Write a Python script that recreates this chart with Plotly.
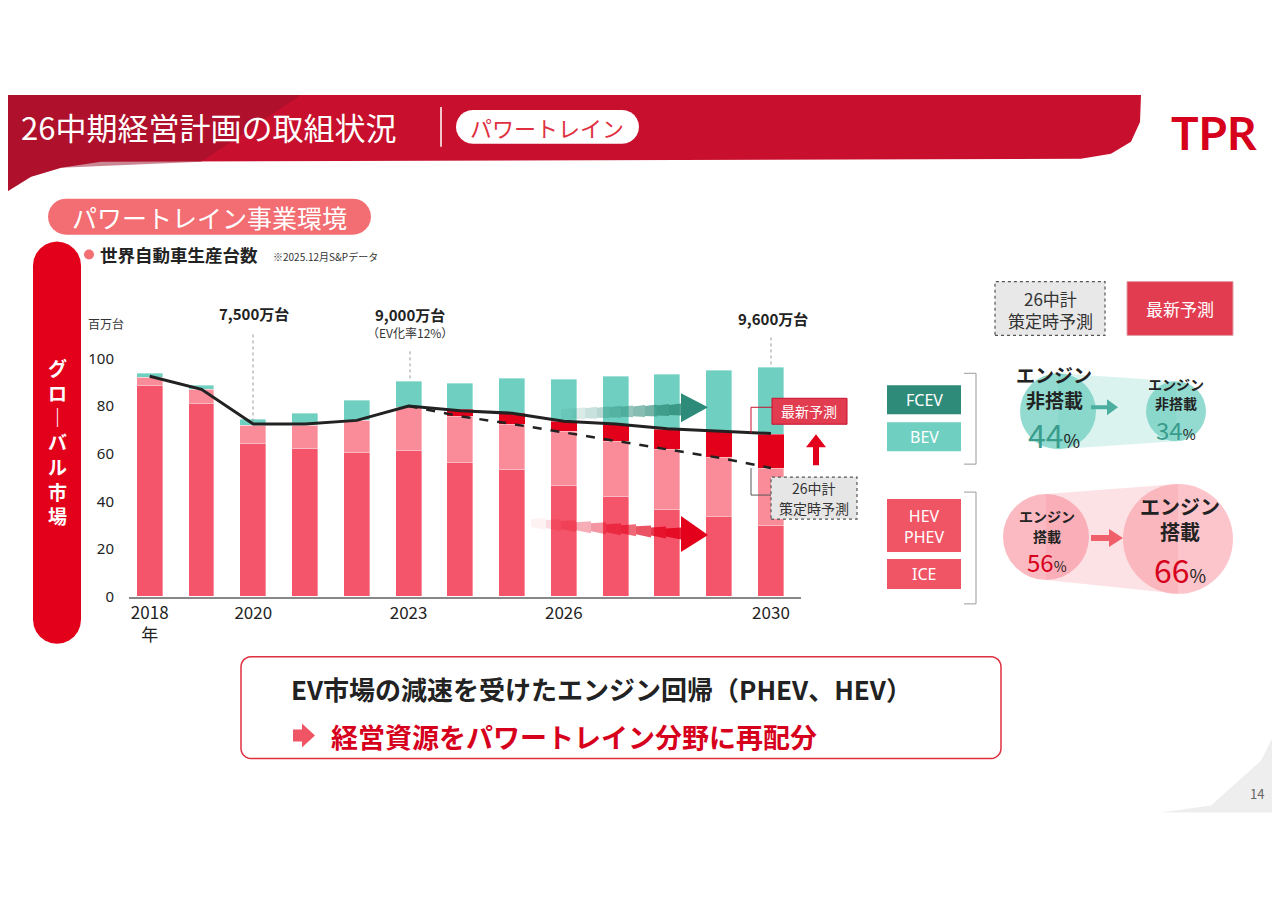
import plotly.graph_objects as go
import math

years = list(range(2018, 2031))
total = [93.8, 88.8, 74.3, 77.1, 82.3, 90.4, 89.4, 91.8, 91.1, 92.5, 93.2, 95.0, 96.2]
ice = [88.6, 81.3, 64.3, 62.1, 60.4, 61.5, 56.2, 53.4, 46.9, 42.3, 36.7, 33.6, 30.1]
hev_top = [92.2, 86.9, 72.0, 72.0, 73.9, 79.6, 75.7, 72.5, 69.2, 65.3, 61.8, 58.3, 53.8]
latest_top = [92.2, 86.9, 72.0, 72.0, 73.9, 79.6, 78.5, 77.1, 73.6, 72.5, 70.2, 69.2, 68.1]
latest_line = [92.5, 87.0, 72.5, 72.5, 74.0, 80.0, 78.0, 77.0, 73.6, 72.5, 70.5, 69.5, 68.5]
plan_years = list(range(2023, 2031))
plan_line = [80.0, 75.7, 72.5, 69.0, 65.3, 61.8, 58.3, 54.0]
tick_years = [2018, 2020, 2023, 2026, 2030]
tick_text = ["2018<br>年", "2020", "2023", "2026", "2030"]

W, H = 1280, 905
def X(p): return (p - 7) / W
def Y(p): return 1 - ((p - 16.9) / 0.98) / H

hev = [h - i for h, i in zip(hev_top, ice)]
incr = [l - h for l, h in zip(latest_top, hev_top)]
bev = [t - l for t, l in zip(total, latest_top)]

fig = go.Figure()
sep = dict(color="rgba(255,255,255,0.6)", width=0.6)
fig.add_bar(x=years, y=ice, marker=dict(color="#F5556A", line=sep), width=0.5)
fig.add_bar(x=years, y=hev, marker=dict(color="#F98C98", line=sep), width=0.5)
fig.add_bar(x=years, y=incr, marker=dict(color="#E2001A", line=dict(width=0)), width=0.5)
fig.add_bar(x=years, y=bev, marker=dict(color="#6FCFC0", line=sep), width=0.5)
fig.add_scatter(x=years, y=latest_line, mode="lines", line=dict(color="#222", width=3))
fig.add_scatter(x=plan_years, y=plan_line, mode="lines", line=dict(color="#222", width=2.5, dash="dash"))

shapes, ann = [], []
def rect(x0, y0, x1, y1, fill, line=None, dash=None, lw=1, layer="above"):
    shapes.append(dict(type="rect", xref="paper", yref="paper", x0=X(x0), x1=X(x1), y0=Y(y1), y1=Y(y0),
                       fillcolor=fill, line=dict(color=line or "rgba(0,0,0,0)", width=lw if line else 0, dash=dash), layer=layer))
def path(d_pts, fill, line=None, lw=1, layer="above"):
    d = "M " + " L ".join(f"{X(a):.5f},{Y(b):.5f}" for a, b in d_pts) + " Z"
    shapes.append(dict(type="path", xref="paper", yref="paper", path=d, fillcolor=fill,
                       line=dict(color=line or "rgba(0,0,0,0)", width=lw if line else 0), layer=layer))
def pill(x0, y0, x1, y1, fill, line=None):
    r = (y1 - y0) / 2
    pts = []
    for i in range(13):
        a = math.pi / 2 + math.pi * i / 12
        pts.append((x0 + r + r * math.cos(a), y0 + r - r * math.sin(a)))
    for i in range(13):
        a = -math.pi / 2 + math.pi * i / 12
        pts.append((x1 - r + r * math.cos(a), y0 + r - r * math.sin(a)))
    path(pts, fill, line, 1.5)
def vpill(x0, y0, x1, y1, fill):
    r = (x1 - x0) / 2
    pts = []
    for i in range(13):
        a = math.pi * i / 12
        pts.append((x0 + r + r * math.cos(a), y0 + r - r * math.sin(a)))
    for i in range(13):
        a = math.pi + math.pi * i / 12
        pts.append((x0 + r + r * math.cos(a), y1 - r - r * math.sin(a)))
    path(pts, fill)
def circle(cx, cy, r, fill):
    shapes.append(dict(type="circle", xref="paper", yref="paper", x0=X(cx - r), x1=X(cx + r), y0=Y(cy + r), y1=Y(cy - r),
                       fillcolor=fill, line=dict(width=0), layer="above"))
def text(x, y, t, size=12, color="#222", bold=False, xa="center", ya="middle", family="Noto Sans CJK JP"):
    ann.append(dict(x=X(x), y=Y(y), xref="paper", yref="paper", text=f"<b>{t}</b>" if bold else t, showarrow=False,
                    font=dict(size=size, color=color, family=family), xanchor=xa, yanchor=ya, align="center"))
def line(pts, color="#888", w=1, dash=None):
    for (a, b), (c, d) in zip(pts[:-1], pts[1:]):
        shapes.append(dict(type="line", xref="paper", yref="paper", x0=X(a), y0=Y(b), x1=X(c), y1=Y(d),
                           line=dict(color=color, width=w, dash=dash), layer="above"))

# header band
hdr = [(-10, 93), (1140, 93), (1139, 120), (1130, 140), (1110, 152), (1080, 157), (100, 160), (60, 166), (30, 175), (-10, 200)]
path(hdr, "#C8102E", layer="below")
path([(-10, 93), (300, 93), (200, 160), (60, 166), (30, 175), (-10, 200)], "rgba(150,15,40,0.5)", layer="below")
text(18, 125, "26中期経営計画の取組状況", 31, "white", xa="left")
line([(440, 105), (440, 145)], "white", 1.5)
pill(455, 108, 638, 142, "white")
text(546, 125, "パワートレイン", 22, "#E0303F")
text(1213, 131, "TPR", 46, "#D7001C", True, family="Lato")

pill(47, 197, 370, 233, "#F26E72")
text(208, 215, "パワートレイン事業環境", 25, "white")
vpill(32, 240, 80, 643, "#E2001A")
text(56, 440, "グ<br>ロ<br>｜<br>バ<br>ル<br>市<br>場", 19, "white", True)
circle(88, 253, 5, "#F26E72")
text(97, 253, "世界自動車生産台数", 17.5, "#222", True, xa="left")
text(270, 255, "※2025.12月S&Pデータ", 10, "#333", xa="left")
text(85, 322, "百万台", 12, "#333", xa="left")

text(253, 312, "7,500万台", 15, "#222", True)
line([(252, 333), (252, 420)], "#999", 1, "dot")
text(409, 313, "9,000万台", 15, "#222", True)
text(409, 331, "（EV化率12%）", 12, "#333")
line([(409, 350), (409, 378)], "#999", 1, "dot")
text(772, 317, "9,600万台", 15, "#222", True)
line([(770, 336), (770, 366)], "#999", 1, "dot")

# gradient arrows
n = 10
for i in range(n):
    a0 = 560 + i * 12; a1 = a0 + 12
    yc0 = 413 - (a0 - 560) * 0.04; yc1 = 413 - (a1 - 560) * 0.04
    path([(a0, yc0 - 5), (a1, yc1 - 6), (a1, yc1 + 6), (a0, yc0 + 5)], f"rgba(46,139,122,{0.1 + 0.08 * i})")
path([(680, 392), (707, 406), (680, 421)], "#2E8B7A")
for i in range(n):
    a0 = 530 + i * 15; a1 = a0 + 15
    yc0 = 522 + (a0 - 530) * 0.07; yc1 = 522 + (a1 - 530) * 0.07
    path([(a0, yc0 - 4), (a1, yc1 - 6), (a1, yc1 + 6), (a0, yc0 + 4)], f"rgba(226,0,26,{0.05 + 0.09 * i})")
path([(680, 515), (707, 534), (680, 551)], "#E2001A")

# chart annotations
rect(771, 397, 846, 423, "#E23C50", "#C8102E")
text(808, 410, "最新予測", 14, "white")
line([(771, 406), (750, 406), (750, 432)], "#C8102E", 1)
path([(812, 464), (812, 446), (805, 446), (815, 433), (825, 446), (818, 446), (818, 464)], "#E2001A")
rect(770, 476, 856, 518, "#E6E6E6", "#555", "dot", 1.2)
text(813, 487, "26中計", 14, "#333")
text(813, 507, "策定時予測", 14, "#333")
line([(770, 494), (750, 494), (750, 467)], "#555", 1)

# legend boxes
rect(994, 280, 1104, 334, "#E8E8E8", "#555", "dot", 1.2)
text(1049, 297, "26中計", 17, "#333")
text(1049, 319, "策定時予測", 17, "#333")
rect(1126, 280, 1232, 334, "#E23C50", "#E0A0A8")
text(1179, 307, "最新予測", 17, "white")
rect(886, 384, 960, 413, "#2E8B7A")
text(923, 399, "FCEV", 16, "white", family="Noto Sans")
rect(886, 421, 960, 450, "#6FCFC0")
text(923, 436, "BEV", 16, "white", family="Noto Sans")
rect(886, 498, 960, 551, "#F05566")
text(923, 525, "HEV<br>PHEV", 16, "white", family="Noto Sans")
rect(886, 558, 960, 588, "#F05566")
text(923, 573, "ICE", 16, "white", family="Noto Sans")
line([(963, 372), (975, 372), (975, 463), (963, 463)], "#AAA", 1.2)
line([(963, 491), (975, 491), (975, 603), (963, 603)], "#AAA", 1.2)

# bubbles
path([(1057, 372), (1175, 380), (1175, 440), (1057, 448)], "rgba(111,207,192,0.25)")
circle(1057, 410, 38, "rgba(111,207,192,0.75)")
circle(1175, 410, 30, "rgba(111,207,192,0.75)")
path([(1090, 404), (1106, 404), (1106, 398), (1117, 406), (1106, 414), (1106, 408), (1090, 408)], "#4BAE9E")
text(1053, 373, "エンジン", 19, "#222", True)
text(1053, 398, "非搭載", 19, "#222", True)
text(1053, 433, "<span style='font-size:32px;color:#3A9C8C'>44</span>%", 18, "#222", ya="middle")
text(1175, 383, "エンジン", 14, "#222", True)
text(1175, 402, "非搭載", 14, "#222", True)
text(1175, 428, "<span style='font-size:24px;color:#3A9C8C'>34</span>%", 14, "#222")

path([(1045, 493), (1177, 483), (1177, 593), (1045, 579)], "rgba(249,140,152,0.25)")
circle(1045, 536, 43, "rgba(249,140,152,0.6)")
circle(1177, 538, 55, "rgba(249,140,152,0.5)")
path([(1090, 534), (1108, 534), (1108, 528), (1122, 537), (1108, 546), (1108, 540), (1090, 540)], "#F0606A")
text(1046, 515, "エンジン", 14, "#222", True)
text(1046, 535, "搭載", 14, "#222", True)
text(1046, 561, "<span style='font-size:24px;color:#D7001C'>56</span>%", 14, "#222")
text(1179, 505, "エンジン", 20, "#222", True)
text(1179, 531, "搭載", 20, "#222", True)
text(1179, 568, "<span style='font-size:32px;color:#D7001C'>66</span>%", 18, "#222")

# bottom box
r = 10
pts = []
for cx, cy, a0 in [(1000 - r, 656 + r, 0), (240 + r, 656 + r, 90), (240 + r, 758 - r, 180), (1000 - r, 758 - r, 270)]:
    for i in range(7):
        a = math.radians(a0 + 15 * i)
        pts.append((cx + r * math.cos(a), cy - r * math.sin(a)))
path(pts, "white", "#E0303F", 1.5)
text(288, 688, "EV市場の減速を受けたエンジン回帰（PHEV、HEV）", 26, "#222", True, xa="left")
path([(292, 729), (301, 729), (301, 723), (314, 735), (301, 747), (301, 741), (292, 741)], "#F05566")
text(328, 736, "経営資源をパワートレイン分野に再配分", 27, "#D7001C", True, xa="left")

# page curl shadow
path([(1290, 700), (1260, 760), (1210, 805), (1160, 812), (1290, 812)], "rgba(200,200,200,0.3)", layer="below")
text(1256, 793, "14", 13, "#666")

fig.update_layout(
    width=W, height=H, margin=dict(l=0, r=0, t=0, b=0), barmode="stack", showlegend=False,
    plot_bgcolor="white", paper_bgcolor="white", bargap=0,
    shapes=shapes, annotations=ann,
    xaxis=dict(domain=[X(128), X(800)], range=[2017.6, 2030.58], tickvals=tick_years, ticktext=tick_text,
               showgrid=False, showline=True, linecolor="#888", linewidth=1.5, ticks="",
               tickfont=dict(size=17, color="#222", family="Noto Sans CJK JP"), zeroline=False),
    yaxis=dict(domain=[Y(596), Y(357)], range=[0, 100], tickvals=[0, 20, 40, 60, 80, 100],
               showgrid=False, zeroline=False, showline=False, ticks="",
               tickfont=dict(size=15, color="#222", family="Noto Sans"), ticklabelstandoff=14),
    font=dict(family="Noto Sans CJK JP"),
)
fig.write_html("out.html")
